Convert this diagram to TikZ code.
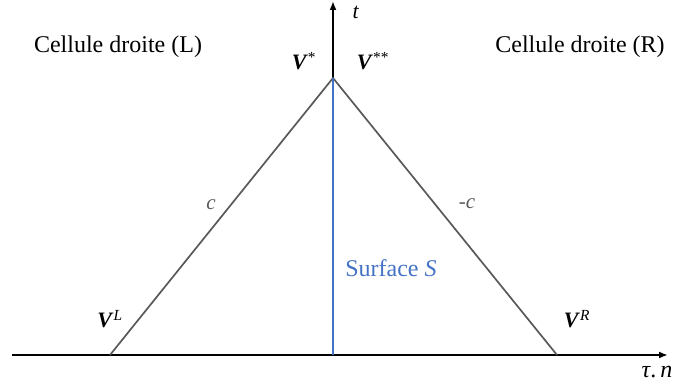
\documentclass[tikz,border=0pt]{standalone}
\usepackage{fontspec}
\setmainfont{Liberation Serif}
\usetikzlibrary{arrows.meta}
\definecolor{edgegray}{HTML}{595959}
\definecolor{surfblue}{HTML}{4472C4}
\definecolor{labgray}{HTML}{595959}
\begin{document}
\begin{tikzpicture}[x=1pt,y=-1pt,
  axis/.style={draw=black,line width=1.8pt,-{Latex[length=9pt,width=7pt]}},
  edge/.style={draw=edgegray,line width=1.7pt},
  surf/.style={draw=surfblue,line width=1.7pt},
  bigtxt/.style={font=\fontsize{24}{28}\selectfont,inner sep=0pt},
  vtxt/.style={font=\fontsize{22}{26}\selectfont,inner sep=0pt},
  slab/.style={font=\fontsize{21}{24}\selectfont\itshape,text=labgray,inner sep=0pt}]
\useasboundingbox (0,0) rectangle (678,387);
\coordinate (O) at (333,355);
\coordinate (xstart) at (12,355);
\coordinate (xend) at (668,355);
\coordinate (tend) at (333,1);
\coordinate (apex) at (333,78);
\coordinate (L) at (110,355);
\coordinate (R) at (557,355);
\draw[axis] (xstart) -- (xend);
\draw[axis] (O) -- (tend);
\draw[edge] (L) -- (apex) -- (R);
\draw[surf] (apex) -- (O);
\node[bigtxt] (cl) at (118,47) {Cellule droite (L)};
\node[bigtxt] (cr) at (580,47) {Cellule droite (R)};
\node[vtxt] (vs) at (304,61) {\textbf{\textit{V}}\textsuperscript{*}};
\node[vtxt] (vss) at (373,61) {\textbf{\textit{V}}\textsuperscript{**}};
\node[vtxt] (tl) at (356,12) {\textit{t}};
\node[slab] (c1) at (211,205) {c};
\node[slab] (c2) at (467,204) {-c};
\node[bigtxt,text=surfblue] (surfS) at (391,268) {Surface \textit{S}};
\node[vtxt] (vl) at (110,319) {\textbf{\textit{V}}\textsuperscript{\textit{L}}};
\node[vtxt] (vr) at (577,319) {\textbf{\textit{V}}\textsuperscript{\textit{R}}};
\node[vtxt,font=\fontsize{24}{28}\selectfont] (tn) at (657,372) {\textit{τ}.\,\textit{n}};
\end{tikzpicture}
\end{document}
